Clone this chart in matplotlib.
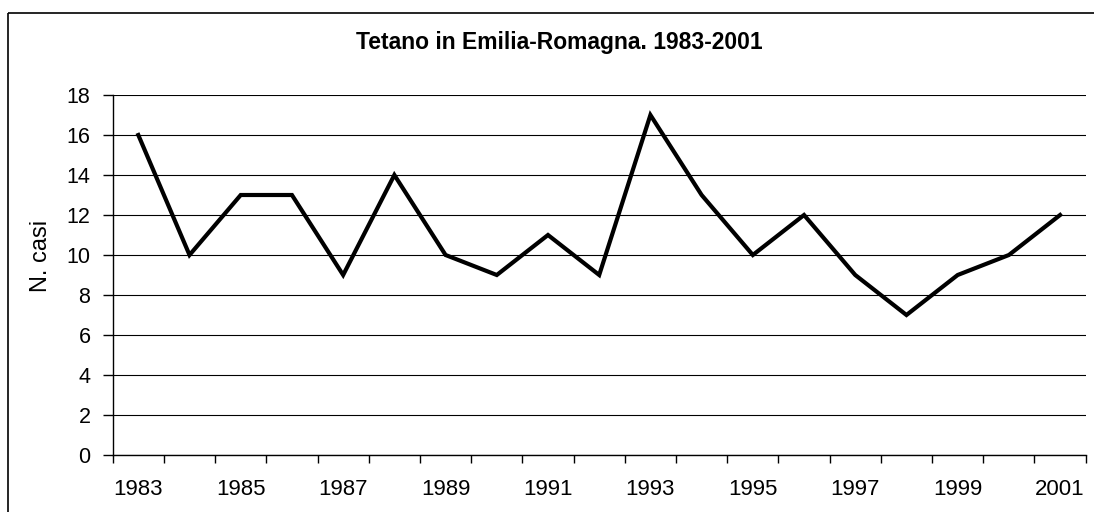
import matplotlib
matplotlib.use("Agg")
import matplotlib.pyplot as plt
from matplotlib.lines import Line2D

years = list(range(1983, 2002))
cases = [16, 10, 13, 13, 9, 14, 10, 9, 11, 9, 17, 13, 10, 12, 9, 7, 9, 10, 12]
yticks = [0, 2, 4, 6, 8, 10, 12, 14, 16, 18]
title = "Tetano in Emilia-Romagna. 1983-2001"
ylabel = "N. casi"

plt.rcParams['font.family'] = ['Liberation Sans', 'DejaVu Sans']

fig = plt.figure(figsize=(10.95, 5.12), dpi=100)
fx, fy = 8/1095, 1 - 13/512
fig.add_artist(Line2D([fx, fx], [0, fy], transform=fig.transFigure, color='black',
                      linewidth=1.2, solid_capstyle='butt'))
fig.add_artist(Line2D([fx, 0.9995], [fy, fy], transform=fig.transFigure, color='black',
                      linewidth=1.2, solid_capstyle='butt'))
ax = fig.add_axes([112.7/1095, 1-455/512, (1085.7-112.7)/1095, (455-95)/512])

x = list(range(len(years)))
ax.plot(x, cases, color='black', linewidth=3, solid_joinstyle='miter')
ax.set_xlim(-0.5, len(years) - 0.5)
ax.set_ylim(0, 18)
ax.set_yticks(yticks)
ax.set_yticklabels([str(v) for v in yticks], fontsize=15.5)
ax.set_xticks([i - 0.5 for i in range(len(years) + 1)])
ax.set_xticklabels([])
ax.set_xticks(x[::2], minor=True)
ax.set_xticklabels([str(y) for y in years[::2]], minor=True, fontsize=16)
ax.tick_params(axis='x', which='minor', length=0, pad=17)
ax.tick_params(axis='x', which='major', length=6, width=1, direction='out')
ax.tick_params(axis='y', length=7, width=1, direction='out', pad=9)
ax.grid(axis='y', color='black', linewidth=0.8)
ax.set_axisbelow(True)
for s in ['top', 'right']:
    ax.spines[s].set_visible(False)
for s in ['left', 'bottom']:
    ax.spines[s].set_linewidth(1)
    ax.spines[s].set_color('black')
ax.set_ylabel(ylabel, fontsize=17, labelpad=0)
ax.yaxis.set_label_coords(41/1095, 0.5, transform=fig.transFigure)
ax.yaxis.label.set_va('center')
fig.text(559/1095, 1-42/512, title, ha='center', va='center', fontsize=16.5, fontweight='bold')

fig.savefig("out.png", dpi=100)
